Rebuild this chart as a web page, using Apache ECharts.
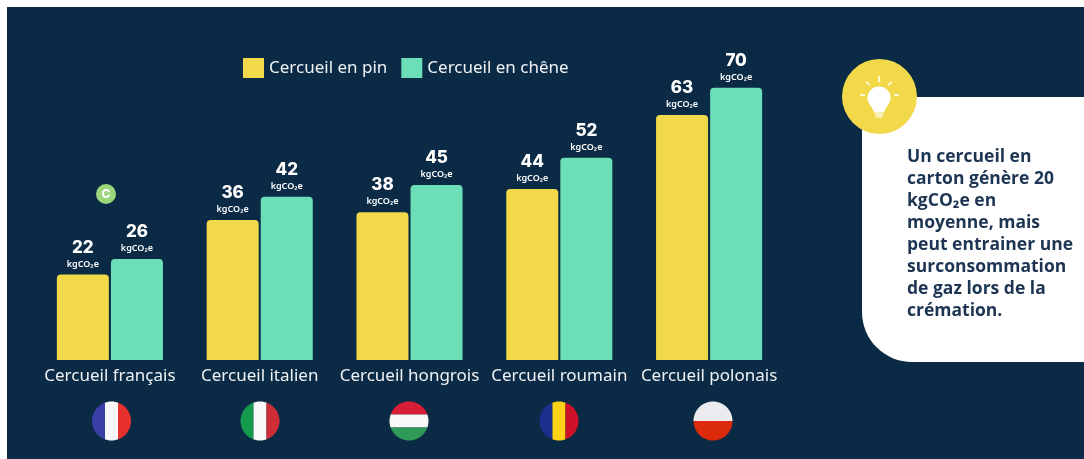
<!DOCTYPE html>
<html>
<head>
<meta charset="utf-8">
<style>
  html, body { margin: 0; padding: 0; background: #fff; }
  #main { width: 1084px; height: 459px; }
</style>
<script src="https://cdn.jsdelivr.net/npm/echarts@6/dist/echarts.min.js"></script>
</head>
<body>
<div id="main"></div>
<script>
const categories = ['Cercueil français', 'Cercueil italien', 'Cercueil hongrois', 'Cercueil roumain', 'Cercueil polonais'];
const pin = [22, 36, 38, 44, 63];
const chene = [26, 42, 45, 52, 70];
const seriesNames = ['Cercueil en pin', 'Cercueil en chêne'];
const unit = 'kgCO₂e';
const noteLines = ['Un cercueil en', 'carton génère 20', 'kgCO₂e en', 'moyenne, mais', 'peut entrainer une', 'surconsommation', 'de gaz lors de la', 'crémation.'];

const navy = '#0b2a45';
const yellow = '#f1d94a';
const green = '#6ddfb8';
const font = 'Noto Sans';

// une bande de drapeau : le disque coupé entre deux droites
function stripe(cx, cy, r, from, to, vertical) {
  const pts = [];
  for (let a = 0; a < 360; a += 3) {
    const t = a * Math.PI / 180;
    const u = r * Math.cos(t), v = r * Math.sin(t);
    const c = Math.min(to, Math.max(from, vertical ? u : v));
    const other = Math.sqrt(r * r - c * c) * (vertical ? Math.sign(v || 1) : Math.sign(u || 1));
    pts.push(vertical ? [cx + c, cy + other] : [cx + other, cy + c]);
  }
  return { type: 'polygon', shape: { points: pts }, style: { fill: '' }, silent: true };
}
function flag(cx, colors, vertical) {
  const r = 19.5, cy = 421, w = 2 * r / colors.length;
  return colors.map((c, i) => {
    const s = stripe(cx, cy, r, -r + i * w, -r + (i + 1) * w, vertical);
    s.style.fill = c;
    return s;
  });
}

const flags = [].concat(
  flag(111.5, ['#3a3fa8', '#f8f8fb', '#e8302c'], true),
  flag(260, ['#139a4c', '#f8f8f8', '#cf2d36'], true),
  flag(409, ['#d81e36', '#f8f8f8', '#2f9a57'], false),
  flag(559, ['#1c2f8e', '#fcd116', '#ce1126'], true),
  flag(713, ['#ececf0', '#dc2a0c'], false)
);

const bulb = [
  { type: 'circle', shape: { cx: 879.5, cy: 96.5, r: 37.5 }, style: { fill: yellow } },
  { type: 'circle', shape: { cx: 879, cy: 98, r: 11.5 }, style: { fill: '#fff' } },
  { type: 'polygon', shape: { points: [[870, 104], [888, 104], [884, 112], [874, 112]] }, style: { fill: '#fff' } },
  { type: 'polygon', shape: { points: [[874, 112], [884, 112], [882, 118], [876, 118]] }, style: { fill: '#f8edb5' } }
].concat([
  [879, 76, 879, 82], [866, 82, 870, 85], [892, 82, 888, 85], [860, 95, 865, 95], [894, 95, 899, 95]
].map(l => ({
  type: 'line',
  shape: { x1: l[0], y1: l[1], x2: l[2], y2: l[3] },
  style: { stroke: '#fff', lineWidth: 1.5 }
})));

const chart = echarts.init(document.getElementById('main'));
chart.setOption({
  animation: false,
  textStyle: { fontFamily: font },
  legend: {
    data: seriesNames,
    left: 238,
    top: 53,
    itemWidth: 21,
    itemHeight: 20,
    itemGap: 14,
    icon: 'rect',
    textStyle: { color: '#eef2f5', fontSize: 17, fontFamily: font }
  },
  grid: { left: 35, right: 300, top: 10, height: 350 },
  xAxis: {
    type: 'category',
    data: categories,
    axisLine: { show: false },
    axisTick: { show: false },
    axisLabel: { color: '#eef2f5', fontSize: 17, fontFamily: font, margin: 8, interval: 0 }
  },
  yAxis: { type: 'value', min: 0, max: 90, show: false, splitLine: { show: false } },
  series: [pin, chene].map((values, i) => ({
    name: seriesNames[i],
    type: 'bar',
    data: values,
    barWidth: 52,
    barGap: '4%',
    z: 5,
    itemStyle: { color: i === 0 ? yellow : green, borderRadius: [4, 4, 0, 0] },
    label: {
      show: true,
      position: 'top',
      distance: 4,
      formatter: p => '{v|' + p.value + '}\n{u|' + unit + '}',
      rich: {
        v: { color: '#fff', fontSize: 17, fontWeight: 800, fontFamily: 'Inter', lineHeight: 20, align: 'center' },
        u: { color: '#fff', fontSize: 9, fontWeight: 600, fontFamily: 'Noto Sans', lineHeight: 13, align: 'center' }
      }
    }
  })),
  graphic: [
    { type: 'rect', z: -10, shape: { x: 7, y: 7, width: 1077, height: 452 }, style: { fill: navy }, silent: true },
    { type: 'rect', z: 1, shape: { x: 862, y: 97, width: 260, height: 265, r: [20, 0, 0, 50] }, style: { fill: '#fff' }, silent: true },
    { type: 'circle', z: 6, shape: { cx: 106, cy: 194, r: 10 }, style: { fill: '#9bd67c' } },
    { type: 'text', z: 7, x: 106, y: 194, style: { text: 'C', fill: '#fff', fontSize: 12, fontWeight: 800, fontFamily: 'Inter', align: 'center', verticalAlign: 'middle' } },
    { type: 'text', z: 7, x: 907, y: 146, style: { text: noteLines.join('\n'), fill: '#1d3553', fontSize: 17.5, lineHeight: 22, fontWeight: 700, fontFamily: 'Open Sans' } }
  ].concat(bulb.map(b => Object.assign({ z: 7 }, b)), flags.map(f => Object.assign({ z: 7 }, f)))
});
</script>
</body>
</html>
